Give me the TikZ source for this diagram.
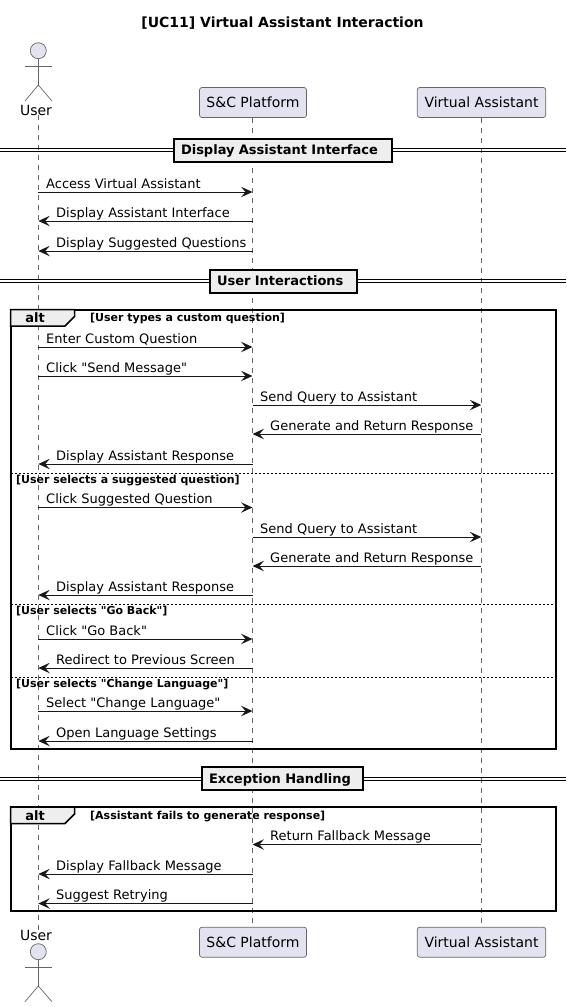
\documentclass[tikz,border=0pt]{standalone}
\usepackage{fontspec}
\setmainfont{DejaVu Sans}
\newfontfamily\dvplain{DejaVu Sans}
\usetikzlibrary{arrows.meta}
\definecolor{ink}{HTML}{181818}
\definecolor{thinink}{HTML}{666666}
\definecolor{partfill}{HTML}{E2E2F0}
\definecolor{tabfill}{HTML}{EEEEEE}
\tikzset{
  partbox/.style={draw=thinink,line width=0.7pt,fill=partfill,rounded corners=2.5pt,inner sep=0pt,font=\dvplain\fontsize{14}{16}\selectfont,text=black},
  lifeline/.style={draw=thinink,line width=0.7pt,dash pattern=on 5pt off 5pt},
  actorline/.style={draw=thinink,line width=0.7pt},
  actorhead/.style={circle,draw=thinink,line width=0.7pt,fill=partfill,minimum size=16pt,inner sep=0pt},
  actorlabel/.style={inner sep=0pt,font=\dvplain\fontsize{14}{16}\selectfont},
  msgarrow/.style={draw=ink,line width=1pt,-{Stealth[length=11.5pt,width=10.5pt,inset=4.5pt,fill=ink,line width=0pt]}},
  msglabel/.style={inner sep=0pt,anchor=base west,font=\dvplain\fontsize{13}{15}\selectfont,text=black},
  divbox/.style={draw=black,line width=2pt,fill=tabfill,inner ysep=0pt,inner xsep=7pt,align=left,text height=11.2pt,text depth=1.8pt,font=\dvplain\bfseries\fontsize{13}{15}\selectfont},
  divline/.style={draw=black,line width=1pt},
  framebox/.style={draw=black,line width=2pt},
  tabshape/.style={draw=black,line width=1.5pt,fill=tabfill,line join=miter},
  altlabel/.style={inner sep=0pt,font=\dvplain\bfseries\fontsize{13}{15}\selectfont},
  guardlabel/.style={inner sep=0pt,anchor=base west,font=\dvplain\bfseries\fontsize{11}{13}\selectfont},
  elseline/.style={draw=black,line width=1pt,dash pattern=on 2pt off 2pt},
}
\newcounter{msgno}
\newcommand{\seqmsg}[5]{%
  \stepcounter{msgno}%
  \coordinate (m\arabic{msgno}a) at (#1 |- 0,#3);
  \coordinate (m\arabic{msgno}b) at (#2 |- 0,#3);
  \draw[msgarrow] (m\arabic{msgno}a) -- (m\arabic{msgno}b);
  \node[msglabel] (label\arabic{msgno}) at (#4,#3-4) {#5};
}
\newcommand{\seqdivider}[7]{%
  \coordinate (#1L) at (0,#6);
  \coordinate (#1R) at (566,#6);
  \draw[divline] ([yshift=1.5pt]#1L) -- ([yshift=1.5pt]#1R);
  \draw[divline] ([yshift=-1.5pt]#1L) -- ([yshift=-1.5pt]#1R);
  \node[divbox,text width={#3pt-#2pt-14pt},minimum height=#5pt-#4pt] (#1) at ({(#2+#3)/2},{(#4+#5)/2}) {#7};
}
\begin{document}
\begin{tikzpicture}[x=1pt,y=-1pt]
\useasboundingbox (0,0) rectangle (566,1007);
\node[inner sep=0pt,font=\dvplain\bfseries\fontsize{14}{16}\selectfont] (title) at (282.5,23) {[UC11] Virtual Assistant Interaction};

\coordinate (U) at (38.3,0);
\coordinate (P) at (252.5,0);
\coordinate (A) at (481.3,0);

\node[partbox,minimum width=107pt,minimum height=30pt] (ptop) at (253,102.5) {S\&C Platform};
\node[partbox,minimum width=128.5pt,minimum height=30pt] (atop) at (481.5,102.5) {Virtual Assistant};
\node[partbox,minimum width=107pt,minimum height=30pt] (pbot) at (253,942.2) {S\&C Platform};
\node[partbox,minimum width=128.5pt,minimum height=30pt] (abot) at (481.5,942.2) {Virtual Assistant};

\node[actorhead] (uhead) at (38.3,50.7) {};
\coordinate (uarmL) at (25,66.3);
\coordinate (uarmR) at (52,66.3);
\coordinate (uhip) at (38.3,85);
\coordinate (ulegL) at (25,101);
\coordinate (ulegR) at (52,101);
\draw[actorline] (uarmL) -- (uarmR);
\draw[actorline] (uhead) -- (uhip);
\draw[actorline] (ulegL) -- (uhip) -- (ulegR);
\node[actorlabel] (ulabel) at (36,110) {User};

\node[actorhead] (bhead) at (38.3,951.7) {};
\coordinate (barmL) at (25,967.3);
\coordinate (barmR) at (52,967.3);
\coordinate (bhip) at (38.3,986);
\coordinate (blegL) at (25,1001.7);
\coordinate (blegR) at (52,1001.7);
\draw[actorline] (barmL) -- (barmR);
\draw[actorline] (bhead) -- (bhip);
\draw[actorline] (blegL) -- (bhip) -- (blegR);
\node[actorlabel] (blabel) at (36,935) {User};

\draw[lifeline] (ulabel.south -| U) -- (blabel.north -| U);
\draw[lifeline] (ptop.south -| P) -- (pbot.north -| P);
\draw[lifeline] (atop.south -| A) -- (abot.north -| A);

\seqdivider{divone}{174}{392}{138.5}{161.5}{150}{Display Assistant Interface}
\seqdivider{divtwo}{210}{357}{269.5}{292.5}{280.8}{User Interactions}
\seqdivider{divthree}{202}{363}{767}{790}{779.2}{Exception Handling}

\draw[framebox] (10.5,309.5) rectangle (555.5,749);
\draw[tabshape] (10.5,309.5) -- (74.5,309.5) -- (74.5,316.5) -- (65,326) -- (10.5,326) -- cycle;
\node[altlabel] (altone) at (35,318) {alt};
\node[guardlabel] (guardone) at (90,321) {[User types a custom question]};
\seqmsg{U}{P}{192}{46}{Access Virtual Assistant}
\seqmsg{P}{U}{221}{56}{Display Assistant Interface}
\seqmsg{P}{U}{251}{56}{Display Suggested Questions}
\seqmsg{U}{P}{347}{46}{Enter Custom Question}
\seqmsg{U}{P}{376}{46}{Click "Send Message"}
\seqmsg{P}{A}{405}{260}{Send Query to Assistant}
\seqmsg{A}{P}{434}{270}{Generate and Return Response}
\seqmsg{P}{U}{464}{56}{Display Assistant Response}
\draw[elseline] (10.5,473) coordinate (elseoneL) -- (555.5,473) coordinate (elseoneR);
\node[guardlabel] (guardtwo) at (16,483) {[User selects a suggested question]};
\seqmsg{U}{P}{507.5}{46}{Click Suggested Question}
\seqmsg{P}{A}{537}{260}{Send Query to Assistant}
\seqmsg{A}{P}{566}{270}{Generate and Return Response}
\seqmsg{P}{U}{595}{56}{Display Assistant Response}
\draw[elseline] (10.5,604) coordinate (elsetwoL) -- (555.5,604) coordinate (elsetwoR);
\node[guardlabel] (guardthree) at (16,614) {[User selects "Go Back"]};
\seqmsg{U}{P}{639}{46}{Click "Go Back"}
\seqmsg{P}{U}{668}{56}{Redirect to Previous Screen}
\draw[elseline] (10.5,677) coordinate (elsethreeL) -- (555.5,677) coordinate (elsethreeR);
\node[guardlabel] (guardfour) at (16,687) {[User selects "Change Language"]};
\seqmsg{U}{P}{711}{46}{Select "Change Language"}
\seqmsg{P}{U}{741}{56}{Open Language Settings}

\draw[framebox] (10.5,807) rectangle (555.5,911);
\draw[tabshape] (10.5,807) -- (74.5,807) -- (74.5,814) -- (65,823.5) -- (10.5,823.5) -- cycle;
\node[altlabel] (alttwo) at (35,815.5) {alt};
\node[guardlabel] (guardfive) at (90,819) {[Assistant fails to generate response]};
\seqmsg{A}{P}{844.5}{270}{Return Fallback Message}
\seqmsg{P}{U}{874}{56}{Display Fallback Message}
\seqmsg{P}{U}{903.5}{56}{Suggest Retrying}
\end{tikzpicture}
\end{document}
